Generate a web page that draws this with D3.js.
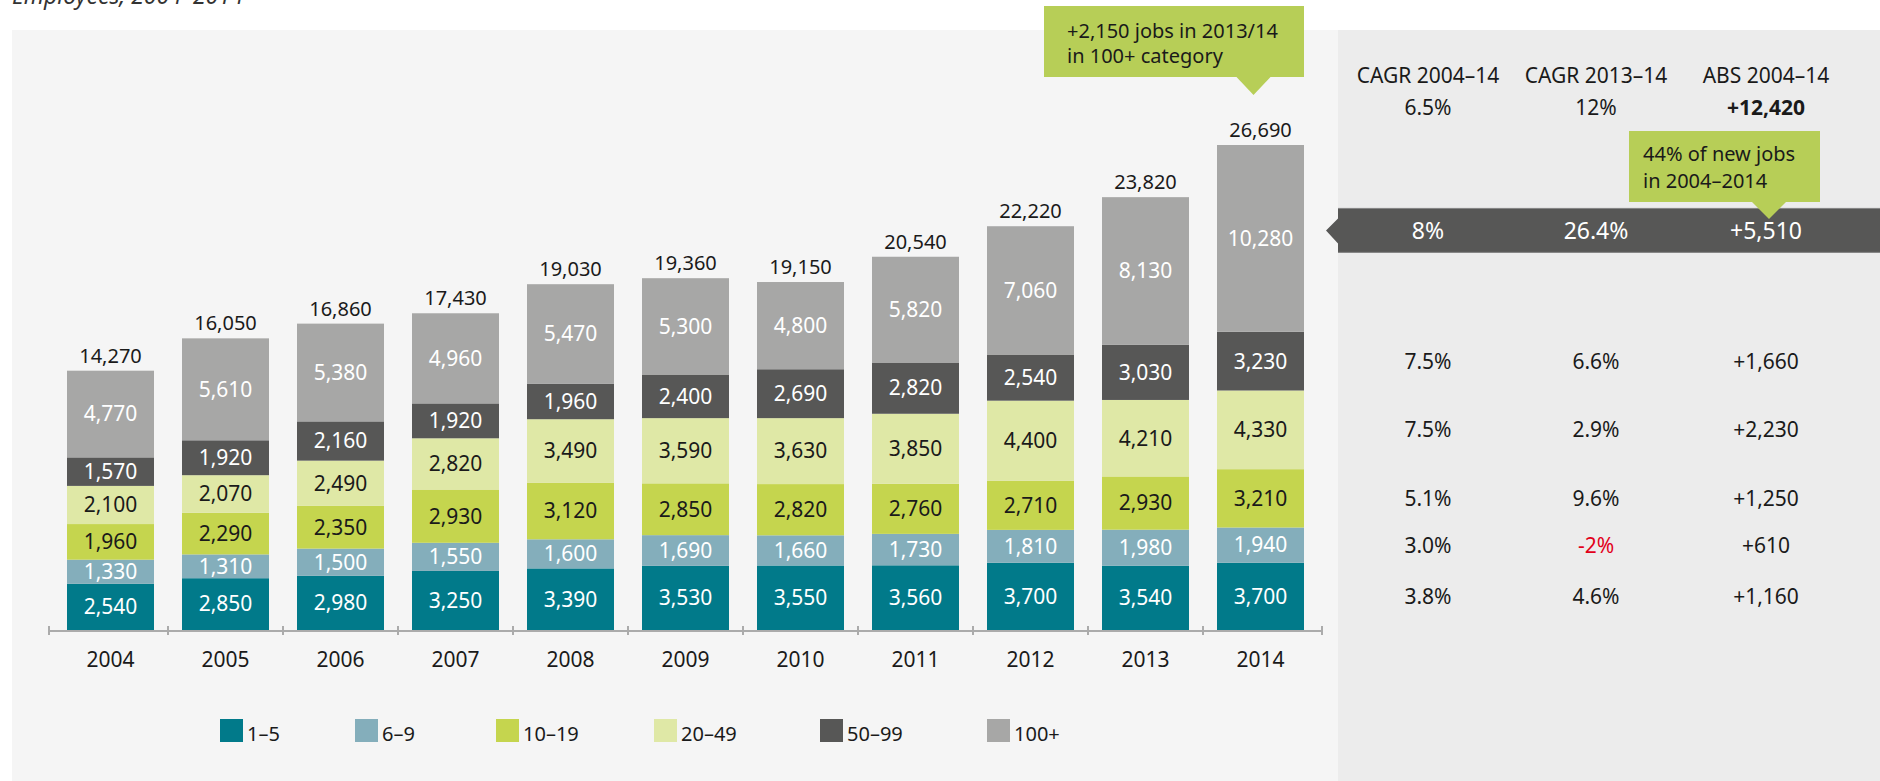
<!DOCTYPE html>
<html>
<head>
<meta charset="utf-8">
<script src="https://cdn.jsdelivr.net/npm/d3@7"></script>
<style>
  html, body { margin: 0; padding: 0; background: #ffffff; }
  svg { display: block; font-family: "Noto Sans", "Open Sans", sans-serif; }
</style>
</head>
<body>
<svg id="chart" width="1880" height="781"></svg>
<script>
// Employees by company size class, 2004–2014
const years = ["2004","2005","2006","2007","2008","2009","2010","2011","2012","2013","2014"];
const sizeClasses = ["1–5","6–9","10–19","20–49","50–99","100+"];

const emp1to5    = [2540, 2850, 2980, 3250, 3390, 3530, 3550, 3560, 3700, 3540, 3700];
const emp6to9    = [1330, 1310, 1500, 1550, 1600, 1690, 1660, 1730, 1810, 1980, 1940];
const emp10to19  = [1960, 2290, 2350, 2930, 3120, 2850, 2820, 2760, 2710, 2930, 3210];
const emp20to49  = [2100, 2070, 2490, 2820, 3490, 3590, 3630, 3850, 4400, 4210, 4330];
const emp50to99  = [1570, 1920, 2160, 1920, 1960, 2400, 2690, 2820, 2540, 3030, 3230];
const emp100plus = [4770, 5610, 5380, 4960, 5470, 5300, 4800, 5820, 7060, 8130, 10280];

// Growth table, one entry per size class (1–5 … 100+)
const cagr2004to14 = ["3.8%", "3.0%", "5.1%", "7.5%", "7.5%", "8%"];
const cagr2013to14 = ["4.6%", "-2%", "9.6%", "2.9%", "6.6%", "26.4%"];
const abs2004to14  = ["+1,160", "+610", "+1,250", "+2,230", "+1,660", "+5,510"];
const tableHeaders = ["CAGR 2004–14", "CAGR 2013–14", "ABS 2004–14"];
const tableTotals  = ["6.5%", "12%", "+12,420"];

const callout100 = ["+2,150 jobs in 2013/14", "in 100+ category"];
const calloutShare = ["44% of new jobs", "in 2004–2014"];
const titleText = "Employees, 2004–2014";

const colors = ["#017a8a", "#84aebb", "#c5d54e", "#dfe8a6", "#575756", "#a7a7a6"];
const labelColors = ["#ffffff", "#ffffff", "#1a1a1a", "#1a1a1a", "#ffffff", "#ffffff"];

const seriesValues = [emp1to5, emp6to9, emp10to19, emp20to49, emp50to99, emp100plus];
const rows = years.map((yr, i) => {
  const r = { year: yr };
  sizeClasses.forEach((k, j) => { r[k] = seriesValues[j][i]; });
  return r;
});
const totals = rows.map(r => d3.sum(sizeClasses, k => r[k]));

const svg = d3.select("#chart");
const fmt = d3.format(",");
const ink = "#1a1a1a";

// panels
svg.append("rect").attr("x", 12).attr("y", 30).attr("width", 1326).attr("height", 751).attr("fill", "#f5f5f5");
svg.append("rect").attr("x", 1338).attr("y", 30).attr("width", 542).attr("height", 751).attr("fill", "#ececec");

// title (sits mostly above the canvas edge)
svg.append("text").attr("x", 12).attr("y", 4)
  .attr("font-size", 23).attr("font-style", "italic").attr("fill", "#333")
  .text(titleText);

// scales
const x = d3.scaleBand().domain(years).range([53, 1318])
  .paddingInner(28 / 115).paddingOuter(14 / 115);
const y = d3.scaleLinear().domain([0, d3.max(totals)]).range([630, 145]);
const color = d3.scaleOrdinal().domain(sizeClasses).range(colors);

const stacked = d3.stack().keys(sizeClasses)(rows);

// bars
const layer = svg.append("g").selectAll("g").data(stacked).join("g")
  .attr("fill", d => color(d.key));
layer.selectAll("rect").data(d => d).join("rect")
  .attr("x", d => x(d.data.year))
  .attr("width", x.bandwidth())
  .attr("y", d => y(d[1]))
  .attr("height", d => y(d[0]) - y(d[1]));

// segment value labels
const segFont = 21;
svg.append("g").selectAll("g").data(stacked).join("g")
  .attr("fill", (d, i) => labelColors[i])
  .selectAll("text").data(d => d).join("text")
  .attr("x", d => x(d.data.year) + x.bandwidth() / 2)
  .attr("y", d => (y(d[0]) + y(d[1])) / 2 + segFont * 0.35)
  .attr("text-anchor", "middle")
  .attr("font-size", segFont)
  .text(d => fmt(d[1] - d[0]));

// totals above bars
svg.append("g").selectAll("text").data(rows).join("text")
  .attr("x", d => x(d.year) + x.bandwidth() / 2)
  .attr("y", (d, i) => y(totals[i]) - 8)
  .attr("text-anchor", "middle")
  .attr("font-size", 20)
  .attr("fill", ink)
  .text((d, i) => fmt(totals[i]));

// baseline with separators between the bars
const gapHalf = x.step() * x.paddingInner() / 2;
const axisLeft = x(years[0]) - 18;
const axisRight = x(years[years.length - 1]) + x.bandwidth() + 18;
const axisY = 631;
const tickXs = [axisLeft].concat(years.slice(1).map(yr => x(yr) - gapHalf), [axisRight]);
const base = svg.append("g").attr("stroke", "#ababab");
base.append("line").attr("x1", axisLeft).attr("x2", axisRight)
  .attr("y1", axisY).attr("y2", axisY).attr("stroke-width", 2);
base.selectAll("line.sep").data(tickXs).join("line").attr("class", "sep")
  .attr("x1", d => d).attr("x2", d => d)
  .attr("y1", axisY - 5).attr("y2", axisY + 4).attr("stroke-width", 2);

// year labels
const xAxis = svg.append("g").attr("transform", `translate(0,${axisY})`)
  .call(d3.axisBottom(x).tickSize(0).tickPadding(21.5));
xAxis.select(".domain").remove();
xAxis.selectAll("text").attr("font-size", 21).attr("fill", ink)
  .attr("font-family", "Noto Sans, Open Sans, sans-serif");

// legend
const legendX = [220, 355, 496, 654, 820, 987];
const legend = svg.append("g");
sizeClasses.forEach((k, i) => {
  legend.append("rect").attr("x", legendX[i]).attr("y", 719).attr("width", 23).attr("height", 23)
    .attr("fill", color(k));
  legend.append("text").attr("x", legendX[i] + 27).attr("y", 741)
    .attr("font-size", 20).attr("fill", ink).text(k);
});

// growth table
const colX = [1428, 1596, 1766];
const headG = svg.append("g").attr("text-anchor", "middle").attr("font-size", 21).attr("fill", ink);
tableHeaders.forEach((h, i) => headG.append("text").attr("x", colX[i]).attr("y", 83).text(h));
tableTotals.forEach((v, i) => headG.append("text").attr("x", colX[i]).attr("y", 115)
  .attr("font-weight", i === 2 ? "bold" : null).text(v));

const last = stacked.map(s => s[s.length - 1]);
const rowCenter = j => (y(last[j][0]) + y(last[j][1])) / 2;

// highlighted 100+ row
const topIdx = sizeClasses.length - 1;
const bandMid = rowCenter(topIdx) - 8;
const bandTop = bandMid - 22.5, bandBot = bandMid + 22.5;
svg.append("path")
  .attr("d", `M1338,${bandTop}H1880V${bandBot}H1338V${bandMid + 13}L1326,${bandMid}L1338,${bandMid - 12}Z`)
  .attr("fill", "#575756");
svg.append("line").attr("x1", 1338).attr("x2", 1880).attr("y1", bandTop + 0.5).attr("y2", bandTop + 0.5)
  .attr("stroke", "#8c8c8c").attr("stroke-width", 1);
svg.append("line").attr("x1", 1338).attr("x2", 1880).attr("y1", bandBot - 0.5).attr("y2", bandBot - 0.5)
  .attr("stroke", "#8c8c8c").attr("stroke-width", 1);

const cols = [cagr2004to14, cagr2013to14, abs2004to14];
const tbl = svg.append("g").attr("text-anchor", "middle");
sizeClasses.forEach((k, j) => {
  const isTop = j === topIdx;
  const cy = isTop ? bandMid : rowCenter(j);
  const fs = isTop ? 23 : 21;
  cols.forEach((col, c) => {
    const v = col[j];
    tbl.append("text").attr("x", colX[c]).attr("y", cy + fs * 0.36)
      .attr("font-size", fs)
      .attr("fill", isTop ? "#ffffff" : (v.startsWith("-") ? "#e2001a" : ink))
      .text(v);
  });
});

// callouts
const calloutFill = "#b7ce57";
function callout(x0, y0, w, h, tipX, tipY, halfBase, lines, tx, baselines, fs) {
  const g = svg.append("g");
  g.append("rect").attr("x", x0).attr("y", y0).attr("width", w).attr("height", h).attr("fill", calloutFill);
  g.append("path")
    .attr("d", `M${tipX - halfBase},${y0 + h}L${tipX},${tipY}L${tipX + halfBase},${y0 + h}Z`)
    .attr("fill", calloutFill);
  lines.forEach((l, i) => g.append("text").attr("x", tx).attr("y", baselines[i])
    .attr("font-size", fs).attr("fill", ink).text(l));
}
const bar2014Mid = x("2014") + x.bandwidth() / 2;
callout(1044, 6, 260, 71, bar2014Mid - 7, 95, 17, callout100, 1067, [38, 63], 20);
callout(1629, 131, 191, 71, colX[2] + 3, 219, 17, calloutShare, 1643, [161, 188], 20);
</script>
</body>
</html>
